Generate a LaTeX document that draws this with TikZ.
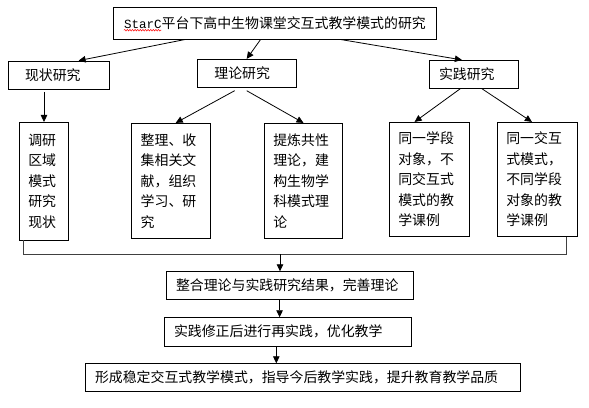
\documentclass[tikz,border=0pt]{standalone}
\usepackage{fontspec}
\setmainfont{Noto Sans CJK SC}
\newfontfamily\monofont{Liberation Mono}
\usetikzlibrary{positioning, arrows.meta, decorations.pathmorphing}

\newcommand{\cnsize}{\fontsize{13.9}{20.5}\selectfont}

\begin{document}
\begin{tikzpicture}[
  x=1pt, y=-1pt,
  box/.style={draw, line width=0.8pt, inner ysep=0pt, align=left, font=\cnsize},
  arr/.style={-{Triangle[length=7pt, width=6.5pt]}, line width=0.8pt},
  spell/.style={red, line width=0.5pt, decorate, decoration={snake, amplitude=0.8pt, segment length=2.6pt}}
]
\useasboundingbox (0,0) rectangle (589,407);

% --- Title ---
\node[box, align=center, inner sep=0pt, minimum width=323.4pt, minimum height=31.7pt] (title) at (275,23.2)
  {{\monofont\fontsize{12.5}{14}\selectfont StarC}平台下高中生物课堂交互式教学模式的研究};
\draw[spell] ([shift={(11,7)}]title.west) -- ++(37.5,0);

% --- Three research strands ---
\node[box, text width=67.6pt, inner xsep=16.7pt, minimum height=28.3pt] (cur) at (58.8,75.2) {现状研究};
\node[box, text width=64.7pt, inner xsep=17pt, minimum height=28pt] (theo) at (246.7,73.3) {理论研究};
\node[box, text width=70pt, inner xsep=9.3pt, minimum height=28pt] (prac) at (474,74.3) {实践研究};

% --- Detail boxes ---
\node[box, text width=31.4pt, inner xsep=9pt, minimum height=117.7pt] (survey) at (44,181.2) {调研\\区域\\模式\\研究\\现状};
\node[box, text width=61pt, inner xsep=9pt, minimum height=115pt] (collect) at (171.2,180.8) {整理、收\\集相关文\\献，组织\\学习、研\\究};
\node[box, text width=60.4pt, inner xsep=9pt, minimum height=115pt] (refine) at (303.5,180.8) {提炼共性\\理论，建\\构生物学\\科模式理\\论};
\node[box, text width=62pt, inner xsep=9pt, minimum height=114.4pt] (stage) at (429.3,179.5) {同一学段\\对象，不\\同交互式\\模式的教\\学课例};
\node[box, text width=62pt, inner xsep=9pt, minimum height=114.4pt] (mode) at (537.3,179.5) {同一交互\\式模式，\\不同学段\\对象的教\\学课例};

% --- Synthesis steps ---
\node[box, text width=228pt, inner xsep=9.3pt, minimum height=27.6pt] (merge) at (290,285.5) {整合理论与实践研究结果，完善理论};
\node[box, text width=227.6pt, inner xsep=9.7pt, minimum height=28.3pt] (revise) at (287.8,331.8) {实践修正后进行再实践，优化教学};
\node[box, text width=416.4pt, inner xsep=9.3pt, minimum height=27.6pt] (final) at (303.2,377.5) {形成稳定交互式教学模式，指导今后教学实践，提升教育教学品质};

% --- Connectors ---
\draw[arr] ([xshift=72.4pt]title.south west) -- ([xshift=70.7pt]cur.north west);
\draw[arr] ([xshift=147.7pt]title.south west) -- (theo.north);
\draw[arr] ([xshift=227.4pt]title.south west) -- ([xshift=32.6pt]prac.north west);
\draw[arr] ([yshift=-2pt]survey.north |- cur.south) -- (survey.north);
\draw[arr] ([xshift=37.7pt, yshift=-3pt]theo.south west) -- ([xshift=4.5pt]collect.north);
\draw[arr] ([yshift=-3pt]theo.south) -- (refine.north);
\draw[arr] ([xshift=31pt]prac.south west) -- ([xshift=25.7pt]stage.north west);
\draw[arr] ([xshift=52.6pt]prac.south west) -- ([xshift=35pt]mode.north west);

% gather line
\coordinate (join) at (280,254.3);
\draw[line width=0.8pt, black!75] ([xshift=4pt]survey.south west) |- (join) -| ([xshift=69.4pt]mode.south west);
\draw[arr] (join) -- (join |- merge.north);
\draw[arr] ([xshift=113.3pt]merge.south west) -- ([xshift=115.7pt]revise.north west);
\draw[arr] ([xshift=112.4pt]revise.south west) -- ([xshift=191pt]final.north west);

\end{tikzpicture}
\end{document}
